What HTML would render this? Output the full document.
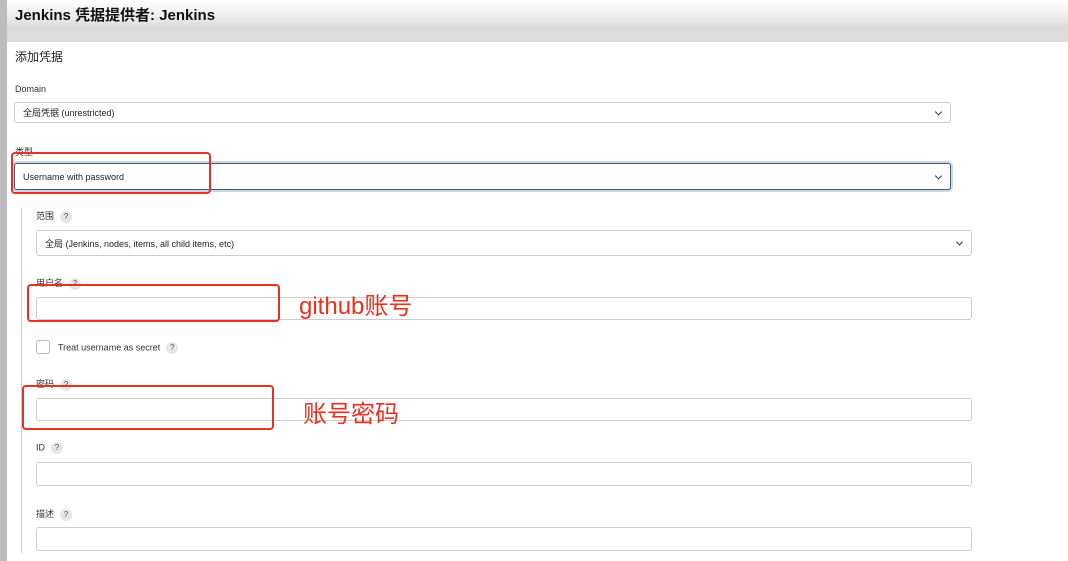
<!DOCTYPE html>
<html><head><meta charset="utf-8"><style>
*{margin:0;padding:0;box-sizing:border-box}
body{width:1068px;height:561px;position:relative;background:#fff;overflow:hidden;font-family:"Liberation Sans","Noto Sans CJK SC",sans-serif;color:#222}
.a{position:absolute}
.lbl{font-size:9px;color:#333}
.q{display:inline-block;width:12px;height:12px;border-radius:50%;background:#e6e6e6;color:#555;font-size:8px;text-align:center;line-height:12px;margin-left:6px;vertical-align:middle}
.box{position:absolute;border:1px solid #ccc;border-radius:3px;background:#fff;font-size:9px;padding-left:8px;display:flex;align-items:center}
.chev{position:absolute;right:9px;top:50%;width:5px;height:5px;border-right:1.5px solid #333;border-bottom:1.5px solid #333;transform:translateY(-70%) rotate(45deg)}
.red{position:absolute;border:2px solid #e8321f;border-radius:4px}
.rt{position:absolute;color:#e8321f;font-size:24px;font-family:"Liberation Sans","Noto Sans CJK SC",sans-serif}
</style></head><body>
<div class="a" style="left:0;top:0;width:1068px;height:42px;background:linear-gradient(#fff,#eee 35%,#dcdcdc 65%,#dcdcdc)"></div>
<div class="a" style="left:0;top:0;width:7px;height:561px;background:#bdbdbd"></div>
<div class="a" style="left:15px;top:4px;font-size:15px;font-weight:bold;color:#111">Jenkins 凭据提供者: Jenkins</div>
<div class="a" style="left:15px;top:48px;font-size:12px;color:#222">添加凭据</div>
<div class="a lbl" style="left:15px;top:84px">Domain</div>
<div class="box" style="left:14px;top:102px;width:937px;height:21px">全局凭据 (unrestricted)<span class="chev"></span></div>
<div class="a lbl" style="left:15px;top:145px">类型</div>
<div class="box" style="left:14px;top:163px;width:937px;height:27px;border:1.5px solid #4a5a66;box-shadow:0 0 0 2px #c6d8ea">Username with password<span class="chev"></span></div>
<div class="a" style="left:21px;top:208px;width:1px;height:345px;background:#ccc"></div>
<div class="a lbl" style="left:36px;top:209px">范围<span class="q">?</span></div>
<div class="box" style="left:36px;top:230px;width:936px;height:26px">全局 (Jenkins, nodes, items, all child items, etc)<span class="chev"></span></div>
<div class="a lbl" style="left:36px;top:276px">用户名<span class="q">?</span></div>
<div class="box" style="left:36px;top:297px;width:936px;height:23px"></div>
<div class="a" style="left:36px;top:340px;width:14px;height:14px;border:1px solid #bbb;border-radius:3px"></div>
<div class="a lbl" style="left:58px;top:342px">Treat username as secret<span class="q">?</span></div>
<div class="a lbl" style="left:36px;top:377px">密码<span class="q">?</span></div>
<div class="box" style="left:36px;top:398px;width:936px;height:23px"></div>
<div class="a lbl" style="left:36px;top:442px">ID<span class="q">?</span></div>
<div class="box" style="left:36px;top:462px;width:936px;height:24px"></div>
<div class="a lbl" style="left:36px;top:507px">描述<span class="q">?</span></div>
<div class="box" style="left:36px;top:527px;width:936px;height:24px"></div>
<div class="red" style="left:11px;top:152px;width:200px;height:42px"></div>
<div class="red" style="left:27px;top:284px;width:253px;height:38px"></div>
<div class="red" style="left:22px;top:385px;width:252px;height:45px"></div>
<div class="rt" style="left:299px;top:286px">github账号</div>
<div class="rt" style="left:303px;top:394px">账号密码</div>
</body></html>
